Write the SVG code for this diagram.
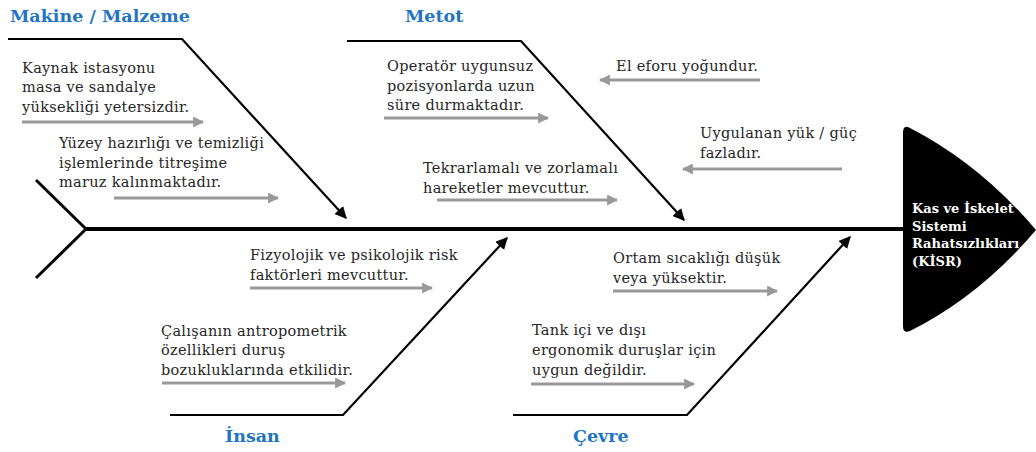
<svg xmlns="http://www.w3.org/2000/svg" width="1036" height="452" viewBox="0 0 1036 452">
<style>
.t{font-family:"DejaVu Serif","Liberation Serif",serif;font-size:14.5px;letter-spacing:0.3px;fill:#262626}
.cat{font-family:"DejaVu Serif","Liberation Serif",serif;font-size:17.5px;font-weight:bold;fill:#1f74c4}
.h{font-family:"DejaVu Serif","Liberation Serif",serif;font-size:13px;font-weight:bold;fill:#fff}
.bone{fill:none;stroke:#000;stroke-width:2.2}
.ga{stroke:#999;stroke-width:3;marker-end:url(#g)}
</style>
<defs>
<marker id="bk" viewBox="0 0 10 10" refX="9" refY="5" markerWidth="12" markerHeight="12" orient="auto" markerUnits="userSpaceOnUse">
<path d="M0,0 L10,5 L0,10 Z" fill="#000"/>
</marker>
<marker id="g" viewBox="0 0 10 10" refX="9" refY="5" markerWidth="11" markerHeight="11" orient="auto" markerUnits="userSpaceOnUse">
<path d="M0,0 L10,5 L0,10 Z" fill="#999"/>
</marker>
</defs>
<rect width="1036" height="452" fill="#fff"/>
<g id="connectors">
<line x1="85" y1="229" x2="905" y2="229" stroke="#000" stroke-width="4"/>
<line x1="36" y1="180" x2="86" y2="229" stroke="#000" stroke-width="3"/>
<line x1="36" y1="278" x2="86" y2="229" stroke="#000" stroke-width="3"/>
<polyline class="bone" points="8,39 182,39 346,218" marker-end="url(#bk)"/>
<polyline class="bone" points="347,41 521,41 684,220" marker-end="url(#bk)"/>
<polyline class="bone" points="170,415 343,415 507,238" marker-end="url(#bk)"/>
<polyline class="bone" points="513,415 687,415 850,237" marker-end="url(#bk)"/>
<line class="ga" x1="22" y1="122" x2="203" y2="122"/>
<line class="ga" x1="114" y1="198" x2="278" y2="198"/>
<line class="ga" x1="384" y1="118" x2="548" y2="118"/>
<line class="ga" x1="437" y1="200" x2="617" y2="200"/>
<line class="ga" x1="760" y1="80" x2="600" y2="80"/>
<line class="ga" x1="842" y1="169" x2="683" y2="169"/>
<line class="ga" x1="250" y1="288" x2="432" y2="288"/>
<line class="ga" x1="162" y1="383" x2="345" y2="383"/>
<line class="ga" x1="613" y1="291" x2="777" y2="291"/>
<line class="ga" x1="531" y1="384" x2="694" y2="384"/>
</g>
<g id="head">
<path d="M903,133 Q903,124 910,128 Q980,164 1036,230 Q980,296 910,331 Q903,334 903,326 Z" fill="#000"/>
<text class="h" x="912" y="213">Kas ve İskelet</text>
<text class="h" x="912" y="231">Sistemi</text>
<text class="h" x="912" y="248">Rahatsızlıkları</text>
<text class="h" x="912" y="266">(KİSR)</text>
</g>
<g id="makine">
<text class="cat" x="10" y="22">Makine / Malzeme</text>
<text class="t" x="22" y="73">Kaynak istasyonu</text>
<text class="t" x="22" y="92">masa ve sandalye</text>
<text class="t" x="22" y="112">yüksekliği yetersizdir.</text>
<text class="t" x="59" y="148">Yüzey hazırlığı ve temizliği</text>
<text class="t" x="59" y="168">işlemlerinde titreşime</text>
<text class="t" x="59" y="187">maruz kalınmaktadır.</text>
</g>
<g id="metot">
<text class="cat" x="405" y="22">Metot</text>
<text class="t" x="387" y="71">Operatör uygunsuz</text>
<text class="t" x="387" y="91">pozisyonlarda uzun</text>
<text class="t" x="387" y="110">süre durmaktadır.</text>
<text class="t" x="423" y="173">Tekrarlamalı ve zorlamalı</text>
<text class="t" x="423" y="193">hareketler mevcuttur.</text>
<text class="t" x="616" y="71">El eforu yoğundur.</text>
<text class="t" x="700" y="138">Uygulanan yük / güç</text>
<text class="t" x="700" y="158">fazladır.</text>
</g>
<g id="insan">
<text class="cat" x="225" y="442">İnsan</text>
<text class="t" x="250" y="260">Fizyolojik ve psikolojik risk</text>
<text class="t" x="250" y="280">faktörleri mevcuttur.</text>
<text class="t" x="161" y="336">Çalışanın antropometrik</text>
<text class="t" x="161" y="355">özellikleri duruş</text>
<text class="t" x="161" y="375">bozukluklarında etkilidir.</text>
</g>
<g id="cevre">
<text class="cat" x="573" y="442">Çevre</text>
<text class="t" x="613" y="263">Ortam sıcaklığı düşük</text>
<text class="t" x="613" y="283">veya yüksektir.</text>
<text class="t" x="532" y="335">Tank içi ve dışı</text>
<text class="t" x="532" y="355">ergonomik duruşlar için</text>
<text class="t" x="532" y="375">uygun değildir.</text>
</g>
</svg>
